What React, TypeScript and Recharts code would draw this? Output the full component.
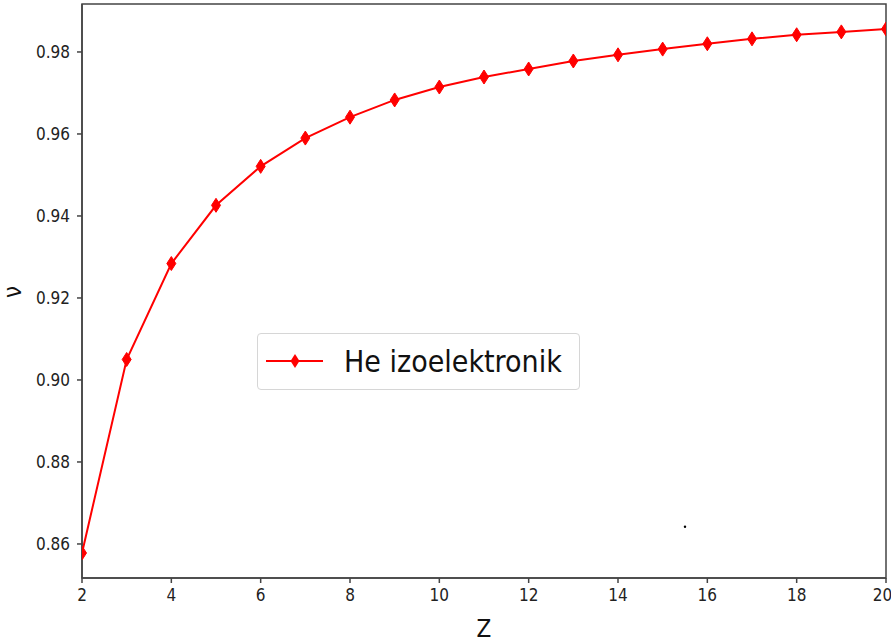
import { Label, Line, LineChart, ReferenceArea, ReferenceDot, XAxis, YAxis } from 'recharts'

const zValues = [2, 3, 4, 5, 6, 7, 8, 9, 10, 11, 12, 13, 14, 15, 16, 17, 18, 19, 20]
const nuValues = [
  0.8578, 0.905, 0.9284, 0.9426, 0.9521, 0.959, 0.9641, 0.9683, 0.97145, 0.97389, 0.97585, 0.9778, 0.9793,
  0.9807, 0.982, 0.9832, 0.9842, 0.9849, 0.9856,
]
const xTicks = [2, 4, 6, 8, 10, 12, 14, 16, 18, 20]
const yTicks = [0.86, 0.88, 0.9, 0.92, 0.94, 0.96, 0.98]
const xDomain: [number, number] = [2, 20]
const yDomain: [number, number] = [0.8517, 0.9917]
const strayDot = { z: 15.5, nu: 0.8642 }

const data = zValues.map((z, i) => ({ z, nu: nuValues[i] }))

const FONT = "'DejaVu Sans Condensed', 'DejaVu Sans', sans-serif"
const AXIS = '#444'

function Diamond(props: any) {
  const { cx, cy } = props
  if (cx == null || cy == null) return null
  return (
    <polygon
      points={`${cx},${cy - 7} ${cx + 4.5},${cy} ${cx},${cy + 7} ${cx - 4.5},${cy}`}
      fill="#ff0000"
      stroke="#ff0000"
      strokeWidth={1}
    />
  )
}

function LegendBox() {
  return (
    <div
      style={{
        position: 'absolute',
        left: 257,
        top: 333,
        width: 321,
        height: 55,
        border: '1px solid #d6d6d6',
        borderRadius: 4,
        background: 'rgba(255,255,255,0.8)',
        display: 'flex',
        alignItems: 'center',
      }}
    >
      <svg width={86} height={55}>
        <line x1={8} x2={65} y1={27} y2={27} stroke="#ff0000" strokeWidth={2} />
        <polygon points="37,20 41.5,27 37,34 32.5,27" fill="#ff0000" />
      </svg>
      <span style={{ fontFamily: FONT, fontSize: 30, color: '#111', lineHeight: 1 }}>He izoelektronik</span>
    </div>
  )
}

export default function App() {
  return (
    <div style={{ position: 'absolute', left: 0, top: 0, width: 891, height: 643, background: '#fff' }}>
      <LineChart width={891} height={643} data={data} margin={{ top: 4, right: 5, bottom: 0, left: 0 }}>
        <XAxis
          dataKey="z"
          type="number"
          domain={xDomain}
          ticks={xTicks}
          height={65}
          stroke={AXIS}
          strokeWidth={1.5}
          tickSize={5}
          tickMargin={6}
          tick={{ fill: '#222', fontSize: 17, fontFamily: FONT }}
          allowDataOverflow
        >
          <Label value="Z" position="insideBottom" offset={6} style={{ fill: '#111', fontSize: 24, fontFamily: FONT }} />
        </XAxis>
        <YAxis
          domain={yDomain}
          ticks={yTicks}
          width={82}
          stroke={AXIS}
          strokeWidth={1.5}
          tickSize={5}
          tickMargin={7}
          tick={{ fill: '#222', fontSize: 17, fontFamily: FONT }}
          tickFormatter={(v: number) => v.toFixed(2)}
          allowDataOverflow
        >
          <Label
            content={() => (
              <text
                x={13}
                y={292}
                transform="rotate(-90 13 292)"
                textAnchor="middle"
                dominantBaseline="central"
                fill="#111"
                fontSize={24}
                fontFamily={FONT}
              >
                ν
              </text>
            )}
          />
        </YAxis>
        <ReferenceArea
          x1={xDomain[0]}
          x2={xDomain[1]}
          y1={yDomain[0]}
          y2={yDomain[1]}
          fill="none"
          stroke={AXIS}
          strokeWidth={1.5}
          ifOverflow="extendDomain"
        />
        <ReferenceDot x={strayDot.z} y={strayDot.nu} r={1.2} fill="#000" stroke="none" />
        <Line
          type="linear"
          dataKey="nu"
          name="He izoelektronik"
          stroke="#ff0000"
          strokeWidth={2}
          dot={<Diamond />}
          activeDot={false}
          isAnimationActive={false}
        />
      </LineChart>
      <LegendBox />
    </div>
  )
}
